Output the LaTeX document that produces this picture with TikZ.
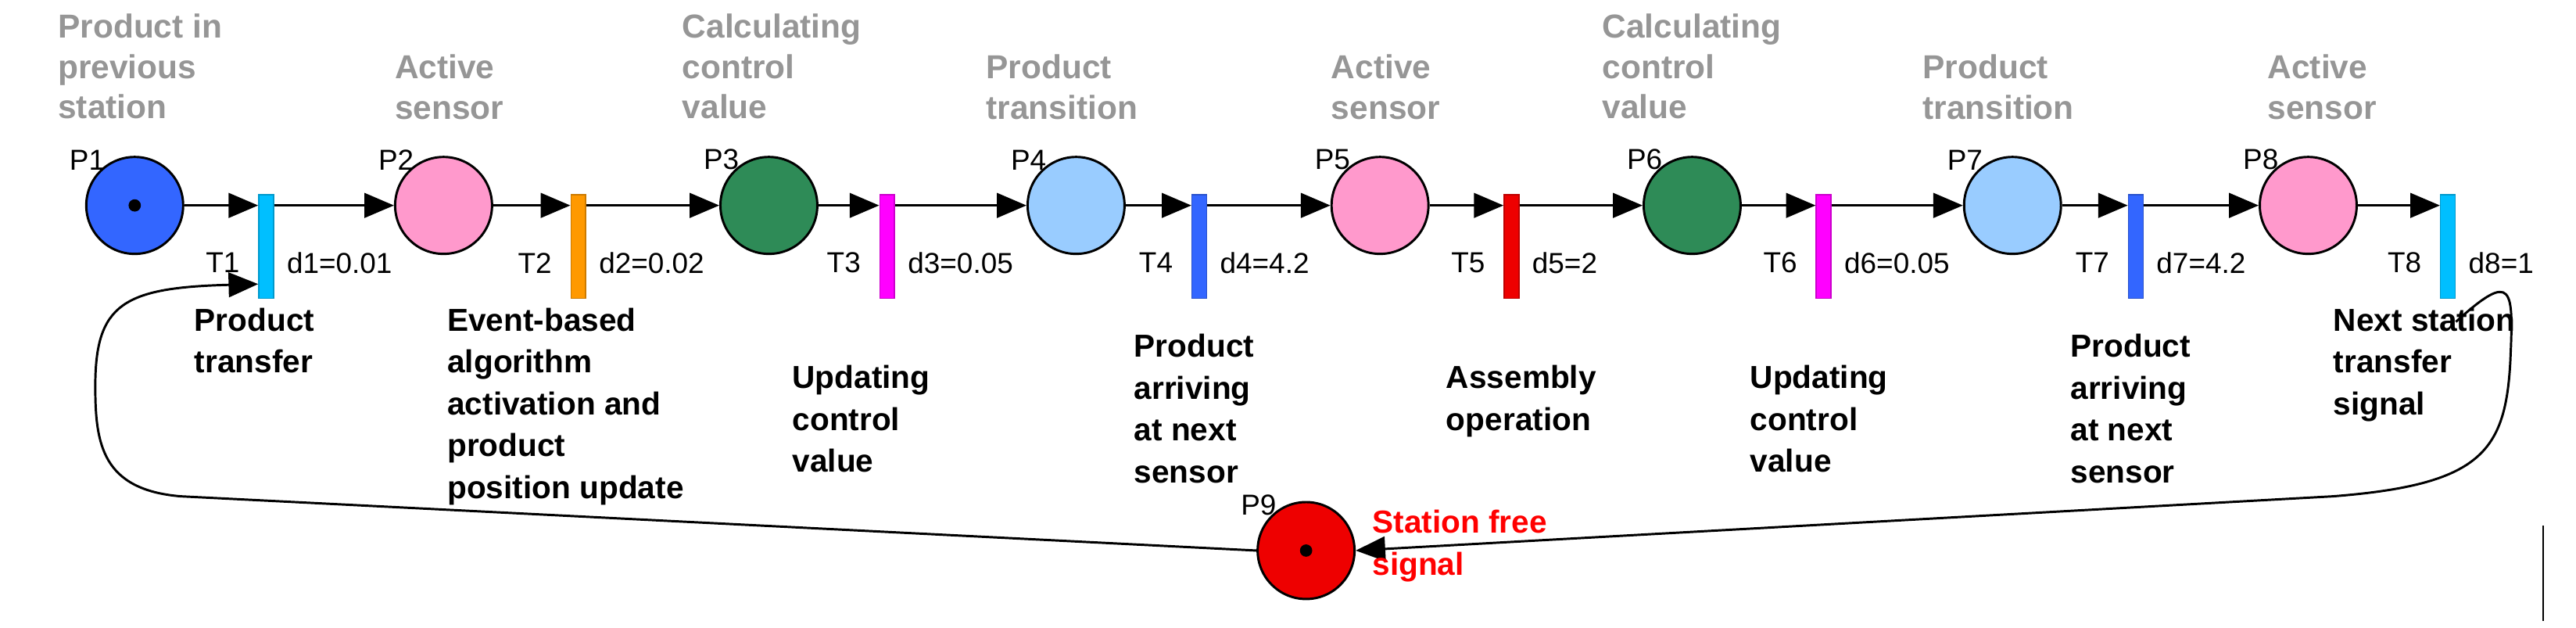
\documentclass[tikz,border=0pt]{standalone}
\usepackage{fontspec}
\setmainfont{Liberation Sans}
\usetikzlibrary{arrows.meta}
\definecolor{pblue}{RGB}{51,102,255}
\definecolor{ppink}{RGB}{255,153,204}
\definecolor{pgreen}{RGB}{46,139,87}
\definecolor{plight}{RGB}{153,204,255}
\definecolor{tcyan}{RGB}{0,191,255}
\definecolor{torange}{RGB}{255,153,0}
\definecolor{tmag}{RGB}{255,0,255}
\definecolor{tred}{RGB}{238,0,0}
\definecolor{lgray}{RGB}{150,150,150}
\begin{document}
\begin{tikzpicture}[x=0.02cm,y=-0.02cm,
 place/.style={circle,draw=black,thick,minimum size=1.18cm,inner sep=0pt},
 tr/.style={draw=#1!80!black,fill=#1,minimum width=0.18cm,minimum height=1.26cm,inner sep=0pt},
 arc/.style={thick,-{Triangle[length=0.36cm,width=0.3cm]}},
 gl/.style={anchor=north west,align=left,text=lgray,font=\fontsize{11.5}{14}\selectfont\bfseries,inner sep=0pt},
 bl/.style={anchor=north west,align=left,font=\fontsize{11}{14.5}\selectfont\bfseries,inner sep=0pt},
 sl/.style={font=\fontsize{10}{12}\selectfont,inner sep=0pt},
 tok/.style={circle,fill=black,minimum size=0.15cm,inner sep=0pt}]
\useasboundingbox (0,0) rectangle (1568,382);
% places
\node[place,fill=pblue] (P1) at (82,125) {};
\node[tok] at (P1) {};
\node[place,fill=ppink] (P2) at (270,125) {};
\node[place,fill=pgreen] (P3) at (468,125) {};
\node[place,fill=plight] (P4) at (655,125) {};
\node[place,fill=ppink] (P5) at (840,125) {};
\node[place,fill=pgreen] (P6) at (1030,125) {};
\node[place,fill=plight] (P7) at (1225,125) {};
\node[place,fill=ppink] (P8) at (1405,125) {};
\node[place,fill=tred] (P9) at (795,335) {};
\node[tok] at (P9) {};
% transitions
\node[tr=tcyan] (T1) at (162,150) {};
\node[tr=torange] (T2) at (352,150) {};
\node[tr=tmag] (T3) at (540,150) {};
\node[tr=pblue] (T4) at (730,150) {};
\node[tr=tred] (T5) at (920,150) {};
\node[tr=tmag] (T6) at (1110,150) {};
\node[tr=pblue] (T7) at (1300,150) {};
\node[tr=tcyan] (T8) at (1490,150) {};
% place labels
\foreach \p in {1,...,9}{\node[sl,anchor=south east] at ([xshift=2pt]P\p.north west) {P\p};}
% transition labels
\foreach \t/\d in {1/d1=0.01,2/d2=0.02,3/d3=0.05,4/d4=4.2,5/d5=2,6/d6=0.05,7/d7=4.2,8/d8=1}{
 \node[sl,anchor=east] at ([xshift=-9pt,yshift=-0.2cm]T\t.center) {T\t};
 \node[sl,anchor=west] at ([xshift=7pt,yshift=-0.2cm]T\t.center) {\d};}
% arcs
\draw[arc] (P1.east) -- (P1.east -| T1.west);
\draw[arc] (P1.east -| T1.east) -- (P2.west);
\draw[arc] (P2.east) -- (P2.east -| T2.west);
\draw[arc] (P2.east -| T2.east) -- (P3.west);
\draw[arc] (P3.east) -- (P3.east -| T3.west);
\draw[arc] (P3.east -| T3.east) -- (P4.west);
\draw[arc] (P4.east) -- (P4.east -| T4.west);
\draw[arc] (P4.east -| T4.east) -- (P5.west);
\draw[arc] (P5.east) -- (P5.east -| T5.west);
\draw[arc] (P5.east -| T5.east) -- (P6.west);
\draw[arc] (P6.east) -- (P6.east -| T6.west);
\draw[arc] (P6.east -| T6.east) -- (P7.west);
\draw[arc] (P7.east) -- (P7.east -| T7.west);
\draw[arc] (P7.east -| T7.east) -- (P8.west);
\draw[arc] (P8.east) -- (P8.east -| T8.west);
% feedback
\coordinate (T8o) at ([yshift=-0.28cm]T8.south east);
\coordinate (T1i) at ([yshift=0.18cm]T1.south west);
\draw[arc] (T8o) .. controls (1530,164) and (1530,175) .. (1528,220)
  .. controls (1525,275) and (1510,295) .. (1420,302)
  -- (P9.east);
\draw[arc] (P9.west) -- (110,302) .. controls (62,298) and (58,270) .. (58,235)
  .. controls (58,185) and (75,175) .. (T1i);
\draw (1548,320) -- (1548,378);
% gray labels
\node[gl] at (35,8) {Product in\\previous\\station};
\node[gl] at (240,33) {Active\\sensor};
\node[gl] at (415,8) {Calculating\\control\\value};
\node[gl] at (600,33) {Product\\transition};
\node[gl] at (810,33) {Active\\sensor};
\node[gl] at (975,8) {Calculating\\control\\value};
\node[gl] at (1170,33) {Product\\transition};
\node[gl] at (1380,33) {Active\\sensor};
% black labels
\node[bl] at (118,187) {Product\\transfer};
\node[bl] at (272,187) {Event-based\\algorithm\\activation and\\product\\position update};
\node[bl] at (482,222) {Updating\\control\\value};
\node[bl] at (690,203) {Product\\arriving\\at next\\sensor};
\node[bl] at (880,222) {Assembly\\operation};
\node[bl] at (1065,222) {Updating\\control\\value};
\node[bl] at (1260,203) {Product\\arriving\\at next\\sensor};
\node[bl] at (1420,187) {Next station\\transfer\\signal};
\node[bl,text=red] at (835,310) {Station free\\signal};
\end{tikzpicture}
\end{document}
